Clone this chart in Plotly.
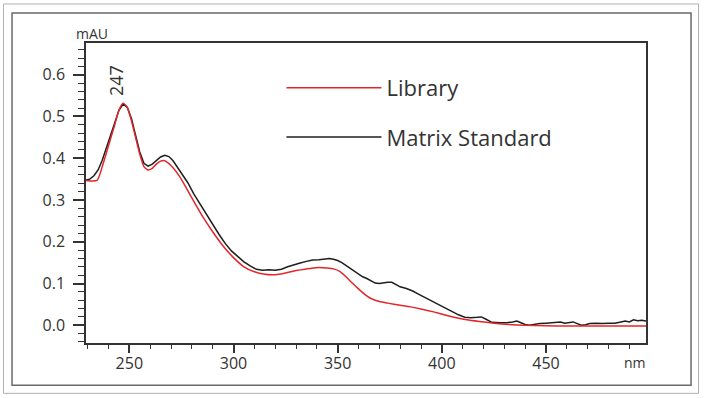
import plotly.graph_objects as go

# ---- data ----
lib_nm = [229.2, 234.5, 237, 240, 243, 245, 247, 249, 251, 253, 255, 257, 259, 261, 263, 265, 267, 269, 271,
          274, 277, 280, 285, 290, 295, 300, 305, 310, 315, 320, 325, 330, 335, 340, 345, 348, 351, 354, 357, 360,
          363, 366, 370, 374, 380, 385, 390, 396, 402, 407, 412, 418, 425, 432, 440, 450, 460, 470, 480, 490, 498]
lib_mau = [0.347, 0.347, 0.38, 0.43, 0.48, 0.515, 0.532, 0.522, 0.49, 0.45, 0.41, 0.38, 0.372, 0.376, 0.386,
           0.393, 0.394, 0.387, 0.377, 0.357, 0.332, 0.305, 0.262, 0.224, 0.19, 0.162, 0.14, 0.128, 0.122, 0.121,
           0.125, 0.131, 0.135, 0.138, 0.137, 0.135, 0.129, 0.116, 0.101, 0.087, 0.074, 0.064, 0.057, 0.053,
           0.048, 0.044, 0.039, 0.032, 0.024, 0.018, 0.013, 0.009, 0.005, 0.002, 0.0, -0.001, -0.002, -0.002,
           -0.002, -0.002, -0.002]

mix_nm = [229.2, 231, 233, 235, 237, 239, 241, 243, 245, 247, 249, 251, 253, 255, 257, 259, 261, 263, 265, 267,
          269, 271, 273, 275, 278, 281, 284, 287, 290, 293, 296, 299, 302, 305, 308, 311, 314, 317, 320, 323,
          326, 329, 332, 335, 338, 341, 344, 346, 348, 350, 352, 354, 356, 358, 360, 362, 364, 366, 368, 370,
          372, 374, 376, 378, 380, 383, 386, 389, 392, 396, 399, 402, 405, 408, 411, 414, 417, 419, 421, 424,
          428, 431, 434, 436, 438, 440, 442, 444, 447, 450, 453, 455, 457, 459, 461, 463, 465, 467, 469, 471,
          474, 477, 480, 483, 486, 488, 490, 492, 494, 496, 498]
mix_mau = [0.348, 0.350, 0.358, 0.372, 0.395, 0.425, 0.455, 0.485, 0.515, 0.53, 0.522, 0.495, 0.455, 0.415,
           0.388, 0.381, 0.386, 0.395, 0.403, 0.407, 0.404, 0.394, 0.380, 0.366, 0.342, 0.314, 0.29, 0.265, 0.24,
           0.218, 0.196, 0.178, 0.165, 0.152, 0.142, 0.134, 0.132, 0.133, 0.132, 0.134, 0.14, 0.145, 0.149,
           0.153, 0.156, 0.157, 0.158, 0.16, 0.158, 0.155, 0.15, 0.143, 0.136, 0.128, 0.122, 0.116, 0.112,
           0.106, 0.101, 0.1, 0.102, 0.103, 0.103, 0.097, 0.092, 0.088, 0.082, 0.074, 0.066, 0.056, 0.048,
           0.040, 0.032, 0.025, 0.019, 0.018, 0.019, 0.020, 0.015, 0.007, 0.006, 0.006, 0.008, 0.010, 0.006,
           0.002, 0.0, 0.002, 0.004, 0.005, 0.006, 0.006, 0.008, 0.005, 0.007, 0.008, 0.004, 0.0, 0.001, 0.004,
           0.005, 0.004, 0.005, 0.005, 0.008, 0.010, 0.008, 0.013, 0.011, 0.012, 0.010]

peak_nm = 247
series_names = ["Library", "Matrix Standard"]

FONT = "Open Sans"
TXT = "#333333"
RED = "#e3262b"
BLK = "#1e1e1e"

fig = go.Figure()
fig.add_trace(go.Scatter(x=mix_nm, y=mix_mau, mode="lines", name=series_names[1],
                         line=dict(color=BLK, width=1.5), legend="legend2"))
fig.add_trace(go.Scatter(x=lib_nm, y=lib_mau, mode="lines", name=series_names[0],
                         line=dict(color=RED, width=1.5, shape="spline", smoothing=0.6), legend="legend"))

peak_val = max(mix_mau)

axis_common = dict(showgrid=False, zeroline=False, showline=True, linecolor="#333333", linewidth=1.5,
                   mirror=True, ticks="outside", tickcolor="#333333", tickwidth=1.5,
                   tickfont=dict(family=FONT, size=16, color=TXT))

fig.update_layout(
    width=705, height=398,
    margin=dict(l=86, r=59, t=43, b=55.3),
    paper_bgcolor="white", plot_bgcolor="white",
    font=dict(family=FONT, color=TXT),
    xaxis=dict(range=[229.2, 498], dtick=50, tick0=0, ticklen=8, ticklabelstandoff=-3,
               minor=dict(dtick=10, ticklen=4, ticks="outside", tickcolor="#333333", tickwidth=1.2),
               **axis_common),
    yaxis=dict(range=[-0.0425, 0.676], dtick=0.1, tick0=0, tickformat=".1f", ticklen=11,
               ticklabelstandoff=5,
               minor=dict(dtick=0.02, ticklen=6, ticks="outside", tickcolor="#333333", tickwidth=1.2),
               **axis_common),
    legend=dict(x=0.349, y=0.85, xanchor="left", yanchor="middle", bgcolor="rgba(0,0,0,0)",
                itemwidth=95, font=dict(family=FONT, size=22, color=TXT)),
    legend2=dict(x=0.349, y=0.686, xanchor="left", yanchor="middle", bgcolor="rgba(0,0,0,0)",
                 itemwidth=95, font=dict(family=FONT, size=22, color=TXT)),
    showlegend=True,
)

fig.add_annotation(x=peak_nm, y=peak_val, xref="x", yref="y", text=str(peak_nm), textangle=-90,
                   showarrow=False, yshift=23, xshift=-7, xanchor="center", yanchor="middle",
                   font=dict(family=FONT, size=18, color=TXT))
fig.add_annotation(x=0.0116, y=1.033, xref="paper", yref="paper", text="mAU", showarrow=False,
                   xanchor="center", yanchor="middle", font=dict(family=FONT, size=14, color=TXT))
fig.add_annotation(x=0.98, y=-0.064, xref="paper", yref="paper", text="nm", showarrow=False,
                   xanchor="center", yanchor="middle", font=dict(family=FONT, size=14, color=TXT))

# frames
fig.add_shape(type="rect", xref="paper", yref="paper", x0=-0.1473, x1=1.0938, y0=-0.1678, y1=1.1301,
              line=dict(color="#b0b0b0", width=1), layer="below")
fig.add_shape(type="rect", xref="paper", yref="paper", x0=-0.1321, x1=1.0804, y0=-0.1411, y1=1.1001,
              line=dict(color="#6a6a6a", width=1.5), layer="below")

fig.write_html("out.html", config={"displayModeBar": False},
               post_script="document.body.style.margin='0px';document.body.style.padding='0px';")
